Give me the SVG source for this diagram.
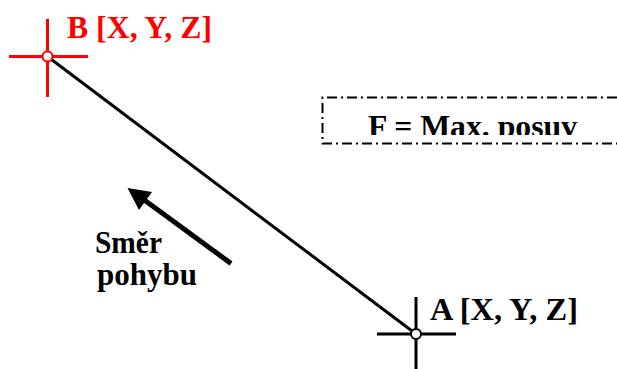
<svg xmlns="http://www.w3.org/2000/svg" width="617" height="369" viewBox="0 0 617 369">
<style>
.t{font-family:"Liberation Serif","Times New Roman",serif;font-weight:bold;font-size:31px;fill:#000}
.red{fill:#ff0000}
.crossR{stroke:#ff0000;stroke-width:3;fill:none}
.crossK{stroke:#000;stroke-width:3;fill:none}
.dd{stroke:#000;stroke-width:2;fill:none;stroke-dasharray:10 4 2 4}
</style>
<defs>
<clipPath id="fc"><rect x="323" y="100" width="294" height="35"/></clipPath>
</defs>
<g id="connectors">
<line x1="47.5" y1="56.5" x2="416" y2="334" stroke="#000" stroke-width="3"/>
</g>
<g id="nodeB">
<line class="crossR" x1="9" y1="56.5" x2="88" y2="56.5"/>
<line class="crossR" x1="47.5" y1="19" x2="47.5" y2="97"/>
<circle cx="47.5" cy="56.5" r="5" fill="#fff" stroke="#ff0000" stroke-width="2"/>
<text class="t red" x="67" y="38" textLength="145" lengthAdjust="spacingAndGlyphs">B [X, Y, Z]</text>
</g>
<g id="nodeA">
<line class="crossK" x1="377" y1="334" x2="456" y2="334"/>
<line class="crossK" x1="416" y1="297" x2="416" y2="369"/>
<circle cx="416" cy="334" r="5" fill="#fff" stroke="#000" stroke-width="2"/>
<text class="t" x="430" y="320" textLength="148" lengthAdjust="spacingAndGlyphs">A [X, Y, Z]</text>
</g>
<g id="boxF">
<path class="dd" d="M617 97.5 H322.5 V143.5 H617"/>
<text class="t" x="368" y="137" textLength="209" lengthAdjust="spacingAndGlyphs" clip-path="url(#fc)">F = Max. posuv</text>
</g>
<g id="direction">
<line x1="231" y1="263.5" x2="145" y2="200.5" stroke="#000" stroke-width="5"/>
<polygon points="127.5,188 152,192 139,210" fill="#000"/>
<text class="t" x="95" y="253" textLength="67" lengthAdjust="spacingAndGlyphs">Směr</text>
<text class="t" x="97" y="285" textLength="100" lengthAdjust="spacingAndGlyphs">pohybu</text>
</g>
</svg>
